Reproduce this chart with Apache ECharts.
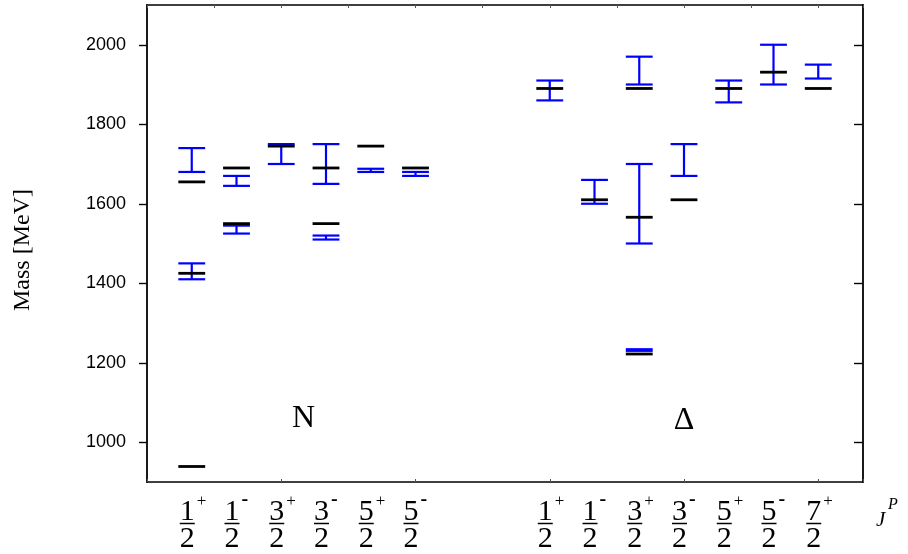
<!DOCTYPE html>
<html>
<head>
<meta charset="utf-8">
<script src="https://cdn.jsdelivr.net/npm/echarts@6/dist/echarts.min.js"></script>
<style>html,body{margin:0;padding:0;background:#fff}#c{width:908px;height:554px}</style>
</head>
<body>
<div id="c"></div>
<script>
// ---- data ----
const yTicks = [1000, 1200, 1400, 1600, 1800, 2000];
// column positions (x) and their J^P labels
const colX = [2, 4, 6, 8, 10, 12, 18, 20, 22, 24, 26, 28, 30];
const numerators = ['1', '1', '3', '3', '5', '5', '1', '1', '3', '3', '5', '5', '7'];
const signs = ['+', '-', '+', '-', '+', '-', '+', '-', '+', '-', '+', '-', '+'];
const denominators = ['2', '2', '2', '2', '2', '2', '2', '2', '2', '2', '2', '2', '2'];
// experimental mass ranges (blue): [x, low, high]
const expRanges = [
  [2, 1680, 1740], [2, 1410, 1450],
  [4, 1645, 1670], [4, 1525, 1545],
  [6, 1700, 1750],
  [8, 1650, 1750], [8, 1510, 1520],
  [10, 1680, 1688],
  [12, 1670, 1680],
  [18, 1860, 1910],
  [20, 1600, 1660],
  [22, 1900, 1970], [22, 1500, 1700], [22, 1230, 1234],
  [24, 1670, 1750],
  [26, 1855, 1910],
  [28, 1900, 2000],
  [30, 1915, 1950]
];
// model masses (black): [x, mass]
const modelMasses = [
  [2, 1655], [2, 1425], [2, 939],
  [4, 1690], [4, 1550],
  [6, 1745],
  [8, 1690], [8, 1550],
  [10, 1745],
  [12, 1690],
  [18, 1890],
  [20, 1610],
  [22, 1890], [22, 1566], [22, 1222],
  [24, 1610],
  [26, 1890],
  [28, 1931],
  [30, 1890]
];
// group labels: [x, y, text]
const groupLabels = [[7, 1060, 'N'], [24, 1055, '\u0394']];

// ---- chart ----
const HALF = 0.6;
const BLUE = '#0000ff';
const chart = echarts.init(document.getElementById('c'), null, {renderer: 'canvas'});

const serif = '"Liberation Serif", "Times New Roman", serif';

const option = {
  animation: false,
  grid: {left: 147, right: 45, top: 5, bottom: 72, containLabel: false},
  xAxis: [
    {
      type: 'value', min: 0, max: 32, interval: 6, position: 'bottom',
      axisLine: {show: true, onZero: false, lineStyle: {color: '#000', width: 1.6}},
      axisTick: {show: true, inside: true, length: 3, lineStyle: {color: '#555', width: 1}},
      axisLabel: {show: false}, splitLine: {show: false}
    },
    {
      type: 'value', min: 0, max: 32, interval: 3, position: 'top',
      axisLine: {show: true, onZero: false, lineStyle: {color: '#000', width: 1.6}},
      axisTick: {show: true, inside: true, length: 3, lineStyle: {color: '#555', width: 1}},
      axisLabel: {show: false}, splitLine: {show: false}
    }
  ],
  yAxis: [
    {
      type: 'value', min: 900, max: 2100, position: 'left',
      axisLine: {show: true, onZero: false, lineStyle: {color: '#000', width: 1.8}},
      axisTick: {show: true, inside: false, length: 8, customValues: yTicks, lineStyle: {color: '#000', width: 1.4}},
      axisLabel: {show: true, margin: 21, customValues: yTicks, formatter: function (v) { return String(v); },
        fontFamily: '"Liberation Sans", Arial, sans-serif', fontSize: 18, color: '#000'},
      splitLine: {show: false}
    },
    {
      type: 'value', min: 900, max: 2100, position: 'right',
      axisLine: {show: true, onZero: false, lineStyle: {color: '#000', width: 1.8}},
      axisTick: {show: true, inside: true, length: 9, customValues: yTicks, lineStyle: {color: '#000', width: 1.4}},
      axisLabel: {show: false}, splitLine: {show: false}
    }
  ],
  series: [
    {
      type: 'custom', name: 'experiment', xAxisIndex: 0, yAxisIndex: 0,
      data: expRanges, encode: {x: 0, y: [1, 2]}, silent: true,
      renderItem: function (params, api) {
        const x = api.value(0), lo = api.value(1), hi = api.value(2);
        const l1 = api.coord([x - HALF, lo]), r1 = api.coord([x + HALF, lo]);
        const l2 = api.coord([x - HALF, hi]), r2 = api.coord([x + HALF, hi]);
        const m1 = api.coord([x, lo]), m2 = api.coord([x, hi]);
        const st = {stroke: BLUE, lineWidth: 2.2};
        return {type: 'group', children: [
          {type: 'line', shape: {x1: m1[0], y1: m1[1], x2: m2[0], y2: m2[1]}, style: st},
          {type: 'line', shape: {x1: l1[0], y1: l1[1], x2: r1[0], y2: r1[1]}, style: st},
          {type: 'line', shape: {x1: l2[0], y1: l2[1], x2: r2[0], y2: r2[1]}, style: st}
        ]};
      }
    },
    {
      type: 'custom', name: 'model', xAxisIndex: 0, yAxisIndex: 0,
      data: modelMasses, encode: {x: 0, y: 1}, silent: true,
      renderItem: function (params, api) {
        const x = api.value(0), m = api.value(1);
        const l = api.coord([x - HALF, m]), r = api.coord([x + HALF, m]);
        return {type: 'line', shape: {x1: l[0], y1: l[1], x2: r[0], y2: r[1]}, style: {stroke: '#000', lineWidth: 2.8}};
      }
    },
    {
      type: 'custom', name: 'groups', xAxisIndex: 0, yAxisIndex: 0,
      data: groupLabels, encode: {x: 0, y: 1}, silent: true,
      renderItem: function (params, api) {
        const d = groupLabels[params.dataIndex];
        const p = api.coord([d[0], d[1]]);
        return {type: 'text', x: p[0], y: p[1], style: {text: d[2], fontFamily: serif, fontSize: 32, fill: '#000', align: 'center', verticalAlign: 'middle'}};
      }
    },
    {
      type: 'custom', name: 'jp', xAxisIndex: 0, yAxisIndex: 0, clip: false,
      data: colX.map(function (x, i) { return [x, 900, i]; }), encode: {x: 0, y: 1}, silent: true,
      renderItem: function (params, api) {
        const i = params.dataIndex;
        const p = api.coord([colX[i], 900]);
        const cx = p[0] - 4.5, by = p[1];
        const minus = signs[i] === '-';
        return {type: 'group', children: [
          {type: 'text', x: cx, y: by + 30, style: {text: numerators[i], fontFamily: serif, fontSize: 30, fill: '#000', align: 'center', verticalAlign: 'middle'}},
          {type: 'line', shape: {x1: cx - 7.5, y1: by + 41.5, x2: cx + 7.5, y2: by + 41.5}, style: {stroke: '#000', lineWidth: 1.5}},
          {type: 'text', x: cx, y: by + 57, style: {text: denominators[i], fontFamily: serif, fontSize: 30, fill: '#000', align: 'center', verticalAlign: 'middle'}},
          {type: 'text', x: cx + 9.5, y: by + (minus ? 18 : 19.5), style: {text: signs[i], fontFamily: serif, fontSize: minus ? 20 : 17, fontWeight: minus ? 'bold' : 'normal', fill: '#000', align: 'left', verticalAlign: 'middle'}}
        ]};
      }
    }
  ],
  graphic: [
    {type: 'text', x: 23, y: 250, rotation: Math.PI / 2, style: {text: 'Mass [MeV]', fontFamily: serif, fontSize: 24, fill: '#000', align: 'center', verticalAlign: 'middle'}},
    {type: 'text', left: 876, top: 510, style: {text: 'J', fontFamily: serif, fontStyle: 'italic', fontSize: 21, fill: '#000'}},
    {type: 'text', left: 888, top: 497, style: {text: 'P', fontFamily: serif, fontStyle: 'italic', fontSize: 16, fill: '#000'}}
  ]
};
chart.setOption(option);
</script>
</body>
</html>
